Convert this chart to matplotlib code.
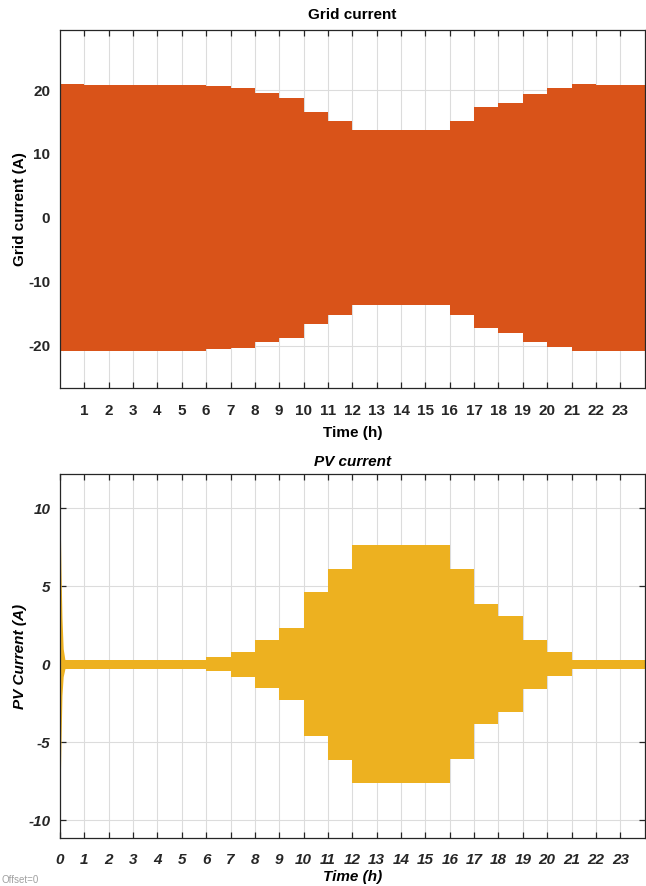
import matplotlib
matplotlib.use("Agg")
import matplotlib.pyplot as plt
import numpy as np

# hour boundaries (h) and peak amplitude of each hourly step
HOURS = list(range(25))
grid_amp = [20.9, 20.8, 20.8, 20.8, 20.8, 20.8, 20.6, 20.4, 19.5, 18.8, 16.6, 15.2,
            13.7, 13.7, 13.7, 13.7, 15.2, 17.3, 18.0, 19.4, 20.3, 20.9, 20.8, 20.8]
pv_amp = [0.3, 0.28, 0.28, 0.28, 0.28, 0.3, 0.45, 0.8, 1.53, 2.3, 4.6, 6.13,
          7.65, 7.65, 7.65, 7.65, 6.1, 3.83, 3.1, 1.58, 0.77, 0.3, 0.3, 0.3]

# start-up transients
grid_start_t = [0.0, 0.04, 0.09, 0.14]
grid_start_hi = [23.9, 16.0, 20.0, 20.9]
grid_start_lo = [-18.3, -15.0, -20.0, -20.9]
pv_start_t = [0.0, 0.04, 0.08, 0.13, 0.2]
pv_start_hi = [10.0, 6.0, 3.0, 1.0, 0.3]
pv_start_lo = [-8.5, -5.0, -2.0, -0.8, -0.3]

grid_ticks_x = list(range(1, 24))
pv_ticks_x = list(range(0, 24))
grid_ticks_y = [-20, -10, 0, 10, 20]
pv_ticks_y = [-10, -5, 0, 5, 10]

ORANGE = "#D95319"
YELLOW = "#EDB120"

plt.rcParams["font.family"] = ["Liberation Sans", "DejaVu Sans"]
plt.rcParams["font.weight"] = "bold"


def style_axes(ax, xticks, yticks, ylim, italic):
    ax.set_xlim(0, 24)
    ax.set_ylim(*ylim)
    ax.set_xticks(xticks)
    ax.set_yticks(yticks)
    style = "italic" if italic else "normal"
    ax.set_xticklabels([str(t) for t in xticks], fontsize=11, fontweight="bold", fontstyle=style)
    ax.set_yticklabels([str(t) for t in yticks], fontsize=11, fontweight="bold", fontstyle=style)
    ax.tick_params(direction="in", length=4.5, width=0.9, top=True, right=True,
                   colors="#262626")
    ax.tick_params(axis="x", pad=11)
    ax.tick_params(axis="y", pad=7)
    ax.grid(True, color="#dcdcdc", linewidth=0.8)
    ax.set_axisbelow(True)
    for s in ax.spines.values():
        s.set_color("#262626")
        s.set_linewidth(0.9)


fig = plt.figure(figsize=(6.46, 8.86), dpi=100)

# Grid current
ax1 = fig.add_axes([0.0929, 0.5617, 0.905, 0.4044])
g = np.array(grid_amp + [grid_amp[-1]])
ax1.fill_between(HOURS, -g, g, step="post", color=ORANGE, linewidth=0)
ax1.fill_between(grid_start_t, grid_start_lo, grid_start_hi, color=ORANGE, linewidth=0)
style_axes(ax1, grid_ticks_x, grid_ticks_y, (-26.7, 29.4), False)
ax1.set_title("Grid current", fontsize=11, fontweight="bold", pad=8)
ax1.set_xlabel("Time (h)", fontsize=11, fontweight="bold", labelpad=6)
ax1.set_ylabel("Grid current (A)", fontsize=11, fontweight="bold", labelpad=1)

# PV current
ax2 = fig.add_axes([0.0929, 0.0542, 0.905, 0.4108])
p = np.array(pv_amp + [pv_amp[-1]])
ax2.fill_between(HOURS, -p, p, step="post", color=YELLOW, linewidth=0)
ax2.fill_between(pv_start_t, pv_start_lo, pv_start_hi, color=YELLOW, linewidth=0)
style_axes(ax2, pv_ticks_x, pv_ticks_y, (-11.15, 12.2), True)
ax2.set_title("PV current", fontsize=11, fontweight="bold", fontstyle="italic", pad=6)
ax2.set_xlabel("Time (h)", fontsize=11, fontweight="bold", fontstyle="italic", labelpad=2)
ax2.set_ylabel("PV Current (A)", fontsize=11, fontweight="bold", fontstyle="italic", labelpad=1)

fig.text(0.003, 0.012, "Offset=0", fontsize=7, color="#a0a0a0", fontweight="normal", va="top")

fig.savefig("out.png", dpi=100)
